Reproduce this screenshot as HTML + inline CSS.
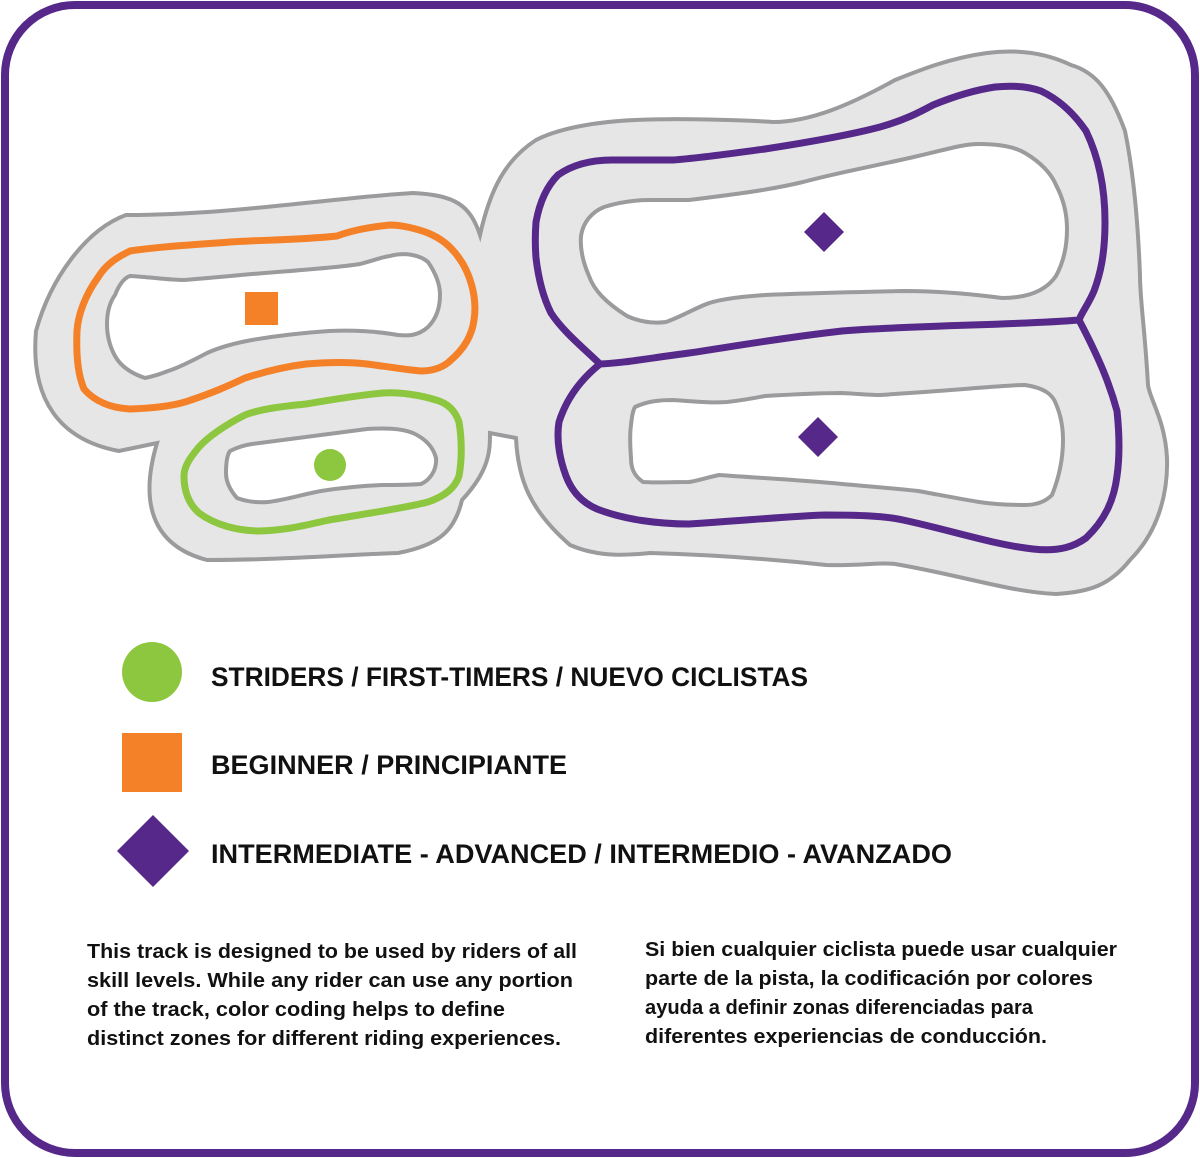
<!DOCTYPE html>
<html><head><meta charset="utf-8"><style>
html,body{margin:0;padding:0;background:#fff;}
svg{display:block;}
</style></head><body>
<svg width="1200" height="1158" viewBox="0 0 1200 1158" xmlns="http://www.w3.org/2000/svg">
<rect x="5" y="5" width="1190" height="1148" rx="70" ry="70" fill="#fff" stroke="#55288a" stroke-width="8"/>
<!-- outer track -->
<path d="M480,235 C470,205 455,195 413,193 C330,198 230,215 126,215 C85,230 50,280 36,331 C30,400 60,440 119,451 L157,443 C140,500 150,545 207,560 C280,560 340,555 398,553 C440,545 455,530 462,500 C490,470 490,450 490,433 L516,438 C518,480 530,510 570,545 C600,558 630,555 650,553 C720,555 780,560 826,565 C860,566 880,562 895,564 C960,575 1010,592 1056,594 C1090,592 1110,585 1130,560 C1160,530 1168,490 1167,458 C1165,420 1150,400 1148,385 C1145,330 1140,300 1140,276 C1138,220 1133,170 1125,131 C1110,90 1095,72 1071,65 C1040,50 1010,50 987,53 C950,58 920,70 895,80 C850,105 810,122 773,122 C740,120 680,118 635,120 C590,122 555,130 536,140 C505,160 490,190 480,235 Z" fill="#e6e6e6" stroke="#9b9b9e" stroke-width="4"/>
<!-- top right island -->
<path d="M604,207 C620,202 635,200 650,200 L689,200 C730,195 770,190 803,182 C840,172 880,165 918,156 C945,150 962,144 979,144 C1000,144 1015,147 1025,153 C1042,163 1052,175 1056,185 C1064,200 1067,215 1067,229 C1067,250 1062,265 1056,276 C1045,292 1025,298 1002,298 C970,294 940,291 903,291 C860,292 810,293 765,295 C735,297 715,300 704,305 C690,311 678,318 666,322 C650,324 638,321 627,316 C605,302 594,290 589,276 C582,260 580,248 581,236 C583,222 592,212 604,207 Z" fill="#fff" stroke="#9b9b9e" stroke-width="4"/>
<!-- bottom right island -->
<path d="M635,407 C648,401 660,400 673,400 C700,402 715,403 727,402 C745,400 755,398 765,396 C800,394 820,393 842,393 C860,394 870,395 880,395 C910,393 940,391 964,389 C990,387 1010,385 1025,385 C1045,388 1053,395 1056,404 C1062,418 1063,430 1063,440 C1063,460 1058,480 1052,495 C1045,502 1035,505 1025,505 C1005,505 992,504 979,502 C955,498 935,494 918,491 C890,488 865,486 842,484 C800,480 760,478 719,475 C705,478 697,481 689,482 C670,482 655,483 643,482 C633,475 631,467 631,458 C630,445 630,432 631,425 C632,415 633,410 635,407 Z" fill="#fff" stroke="#9b9b9e" stroke-width="4"/>
<!-- left orange island -->
<path d="M130,276 C150,277 168,280 184,280 C210,278 230,276 252,274 C300,270 335,268 360,264 C375,260 382,257 390,256 C405,252 420,255 428,262 C437,275 440,285 440,295 C440,310 435,320 428,327 C418,336 408,336 398,335 C375,331 350,330 329,331 C300,333 275,336 252,340 C230,344 218,348 207,353 C190,362 178,368 168,371 C158,375 150,377 145,378 C130,373 120,365 115,356 C109,345 107,335 107,324 C107,312 110,302 115,295 C119,285 124,278 130,276 Z" fill="#fff" stroke="#9b9b9e" stroke-width="4"/>
<!-- green island -->
<path d="M230,451 C238,447 245,445 252,444 C300,438 335,433 367,429 C385,428 400,428 413,433 C428,440 434,450 436,458 C437,470 430,480 421,484 C408,485 395,485 383,485 C360,486 340,488 321,491 C300,495 285,500 268,502 C255,503 245,501 237,498 C230,490 226,482 226,473 C226,462 227,455 230,451 Z" fill="#fff" stroke="#9b9b9e" stroke-width="4"/>
<!-- orange loop -->
<path d="M390,225 C360,228 345,233 337,236 C300,240 260,240 230,242 C190,245 155,247 130,251 C115,258 105,266 99,276 C85,295 78,315 77,331 C76,355 78,375 84,389 C95,402 112,408 130,409 C160,408 178,405 191,400 C215,392 230,385 245,378 C270,370 290,366 306,364 C330,362 350,362 367,364 C390,367 408,370 421,371 C435,371 445,366 451,360 C465,348 472,335 474,320 C478,295 468,270 459,258 C450,245 440,238 428,233 C415,228 400,225 390,225 Z" fill="none" stroke="#f48128" stroke-width="7"/>
<!-- green loop -->
<path d="M383,393 C350,396 325,401 306,404 C275,407 258,410 245,415 C225,425 208,437 199,447 C188,460 184,468 184,476 C184,493 190,505 199,513 C215,525 238,531 260,531 C290,530 310,524 329,520 C370,513 405,508 428,502 C445,496 455,488 459,476 C462,460 462,440 459,422 C455,410 447,403 436,400 C420,395 400,392 383,393 Z" fill="none" stroke="#8dc63f" stroke-width="7"/>
<!-- purple top loop -->
<path d="M600,364 C580,345 562,330 551,313 C542,295 538,275 536,258 C535,245 535,235 536,222 C540,200 548,185 558,175 C575,163 595,160 612,160 C635,160 655,160 673,160 C700,158 735,153 765,149 C810,142 850,135 880,127 C905,120 920,112 933,105 C955,96 975,90 995,87 C1015,85 1030,87 1041,91 C1060,100 1075,115 1086,131 C1100,160 1105,190 1105,222 C1105,255 1100,275 1094,291 C1088,305 1082,312 1079,320 C1020,325 920,325 842,331 C780,338 730,347 689,353 C650,358 625,363 600,364 Z" fill="none" stroke="#55288a" stroke-width="7"/>
<!-- purple bottom loop -->
<path d="M600,364 C580,380 566,400 559,422 C556,440 560,460 566,476 C572,492 583,503 597,509 C625,520 660,524 689,524 C740,521 790,516 826,515 C860,515 885,516 903,520 C950,530 995,545 1033,549 C1060,552 1075,546 1086,538 C1105,520 1114,500 1117,476 C1120,455 1119,430 1117,411 C1110,385 1100,360 1079,320" fill="none" stroke="#55288a" stroke-width="7"/>
<!-- markers -->
<rect x="245" y="292" width="33" height="33" fill="#f48128"/>
<circle cx="330" cy="465" r="16" fill="#8dc63f"/>
<polygon points="824,212 844,232 824,252 804,232" fill="#55288a"/>
<polygon points="818,417 838,437 818,457 798,437" fill="#55288a"/>
<!-- legend -->
<circle cx="152" cy="672" r="30" fill="#8dc63f"/>
<rect x="122" y="733" width="60" height="59" fill="#f48128"/>
<polygon points="153,815 189,851 153,887 117,851" fill="#55288a"/>
<g font-family="Liberation Sans, sans-serif" font-weight="bold" fill="#111" font-size="27">
<text x="211" y="686" textLength="597" lengthAdjust="spacingAndGlyphs">STRIDERS / FIRST-TIMERS / NUEVO CICLISTAS</text>
<text x="211" y="774" textLength="356" lengthAdjust="spacingAndGlyphs">BEGINNER / PRINCIPIANTE</text>
<text x="211" y="863" textLength="741" lengthAdjust="spacingAndGlyphs">INTERMEDIATE - ADVANCED / INTERMEDIO - AVANZADO</text>
</g>
<g font-family="Liberation Sans, sans-serif" font-weight="bold" fill="#111" font-size="20">
<text x="87" y="958" textLength="490" lengthAdjust="spacingAndGlyphs">This track is designed to be used by riders of all</text>
<text x="87" y="987" textLength="486" lengthAdjust="spacingAndGlyphs">skill levels. While any rider can use any portion</text>
<text x="87" y="1016" textLength="418" lengthAdjust="spacingAndGlyphs">of the track, color coding helps to define</text>
<text x="87" y="1045" textLength="474" lengthAdjust="spacingAndGlyphs">distinct zones for different riding experiences.</text>
<text x="645" y="956" textLength="472" lengthAdjust="spacingAndGlyphs">Si bien cualquier ciclista puede usar cualquier</text>
<text x="645" y="985" textLength="448" lengthAdjust="spacingAndGlyphs">parte de la pista, la codificación por colores</text>
<text x="645" y="1014" textLength="388" lengthAdjust="spacingAndGlyphs">ayuda a definir zonas diferenciadas para</text>
<text x="645" y="1043" textLength="402" lengthAdjust="spacingAndGlyphs">diferentes experiencias de conducción.</text>
</g>
</svg>
</body></html>
